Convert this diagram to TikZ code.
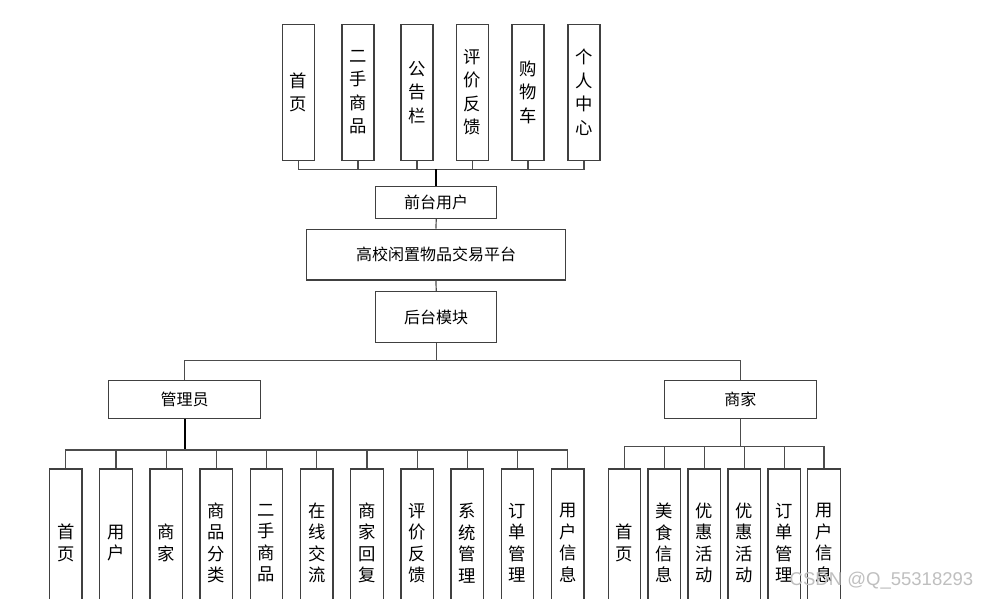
\documentclass[tikz,border=0pt]{standalone}
\usepackage{fontspec}
\setmainfont{Noto Sans CJK SC}
\newfontfamily\wmfont{Liberation Sans}
\usepackage{tikz}
\usetikzlibrary{positioning}
\tikzset{
    vbox/.style={
        draw=black!75,
        line width=1pt,
        fill=white,
        inner sep=0pt,
        minimum width=24pt,
        minimum height=102pt,
        align=center,
        font=\fontsize{13}{17.6}\selectfont
    },
    leaf/.style={
        vbox,
        minimum width=24.4pt,
        minimum height=111pt,
        font=\fontsize{13}{16.1}\selectfont
    },
    hbox/.style={
        draw=black!75,
        line width=1pt,
        fill=white,
        inner sep=0pt,
        font=\fontsize{12}{14}\selectfont
    },
    link/.style={draw=black!70, line width=0.9pt},
    trunk/.style={draw=black, line width=1.5pt}
}

\begin{document}
\begin{tikzpicture}[x=0.75pt, y=-0.75pt]
    \useasboundingbox (0,0) rectangle (981,599);
    \clip (0,0) rectangle (981,599);

    % front end
    \node[vbox] (t1) at (298.5,92.3) {首\\页};
    \node[vbox] (t2) at (358,92.3) {二\\手\\商\\品};
    \node[vbox] (t3) at (417,92.3) {公\\告\\栏};
    \node[vbox] (t4) at (472.5,92.3) {评\\价\\反\\馈};
    \node[vbox] (t5) at (528,92.3) {购\\物\\车};
    \node[vbox] (t6) at (584,92.3) {个\\人\\中\\心};

    \node[hbox, minimum width=90.75pt, minimum height=24pt] (front) at (436.2,202.2) {前台用户};
    \node[hbox, minimum width=194pt, minimum height=38pt] (platform) at (436,254.7) {高校闲置物品交易平台};
    \node[hbox, minimum width=90.75pt, minimum height=38pt] (back) at (436.2,317) {后台模块};
    \node[hbox, minimum width=114pt, minimum height=28.8pt] (admin) at (184.7,399.5) {管理员};
    \node[hbox, minimum width=114pt, minimum height=28.8pt] (shop) at (740.3,399.5) {商家};

    % admin modules
    \node[leaf] (a1) at (65.7,543) {首\\页};
    \node[leaf] (a2) at (115.9,543) {用\\户};
    \node[leaf] (a3) at (166.1,543) {商\\家};
    \node[leaf] (a4) at (216.3,543) {商\\品\\分\\类};
    \node[leaf] (a5) at (266.5,543) {二\\手\\商\\品};
    \node[leaf] (a6) at (316.7,543) {在\\线\\交\\流};
    \node[leaf] (a7) at (366.9,543) {商\\家\\回\\复};
    \node[leaf] (a8) at (417.1,543) {评\\价\\反\\馈};
    \node[leaf] (a9) at (467.3,543) {系\\统\\管\\理};
    \node[leaf] (a10) at (517.5,543) {订\\单\\管\\理};
    \node[leaf] (a11) at (567.7,543) {用\\户\\信\\息};

    % shop modules
    \node[leaf] (s1) at (624.5,543) {首\\页};
    \node[leaf] (s2) at (664.4,543) {美\\食\\信\\息};
    \node[leaf] (s3) at (704.3,543) {优\\惠\\活\\动};
    \node[leaf] (s4) at (744.2,543) {优\\惠\\活\\动};
    \node[leaf] (s5) at (784.1,543) {订\\单\\管\\理};
    \node[leaf] (s6) at (824,543) {用\\户\\信\\息};

    \coordinate (topbus) at (436.2,169.3);
    \coordinate (midbus) at (436.2,360.7);
    \coordinate (abus) at (184.7,450);
    \coordinate (sbus) at (740.3,446.7);

    \draw[link] (t1.south) |- (topbus);
    \draw[link] (t2.south) |- (topbus);
    \draw[link] (t3.south) |- (topbus);
    \draw[link] (t4.south) |- (topbus);
    \draw[link] (t5.south) |- (topbus);
    \draw[link] (t6.south) |- (topbus);
    \draw[trunk] (topbus) -- (front.north);

    \draw[link] (front.south) -- (platform.north);
    \draw[link] (platform.south) -- (back.north);
    \draw[link] (back.south) -- (midbus);
    \draw[link] (admin.north) |- (midbus);
    \draw[link] (shop.north) |- (midbus);

    \draw[trunk] (admin.south) -- (abus);
    \draw[link] (a1.north) |- (abus);
    \draw[link] (a2.north) |- (abus);
    \draw[link] (a3.north) |- (abus);
    \draw[link] (a4.north) |- (abus);
    \draw[link] (a5.north) |- (abus);
    \draw[link] (a6.north) |- (abus);
    \draw[link] (a7.north) |- (abus);
    \draw[link] (a8.north) |- (abus);
    \draw[link] (a9.north) |- (abus);
    \draw[link] (a10.north) |- (abus);
    \draw[link] (a11.north) |- (abus);

    \draw[link] (shop.south) -- (sbus);
    \draw[link] (s1.north) |- (sbus);
    \draw[link] (s2.north) |- (sbus);
    \draw[link] (s3.north) |- (sbus);
    \draw[link] (s4.north) |- (sbus);
    \draw[link] (s5.north) |- (sbus);
    \draw[link] (s6.north) |- (sbus);

    \node[font=\wmfont\fontsize{13.9}{16}\selectfont, text=black!25, anchor=east] (mark) at (978,581) {CSDN @Q\_55318293};
\end{tikzpicture}
\end{document}
